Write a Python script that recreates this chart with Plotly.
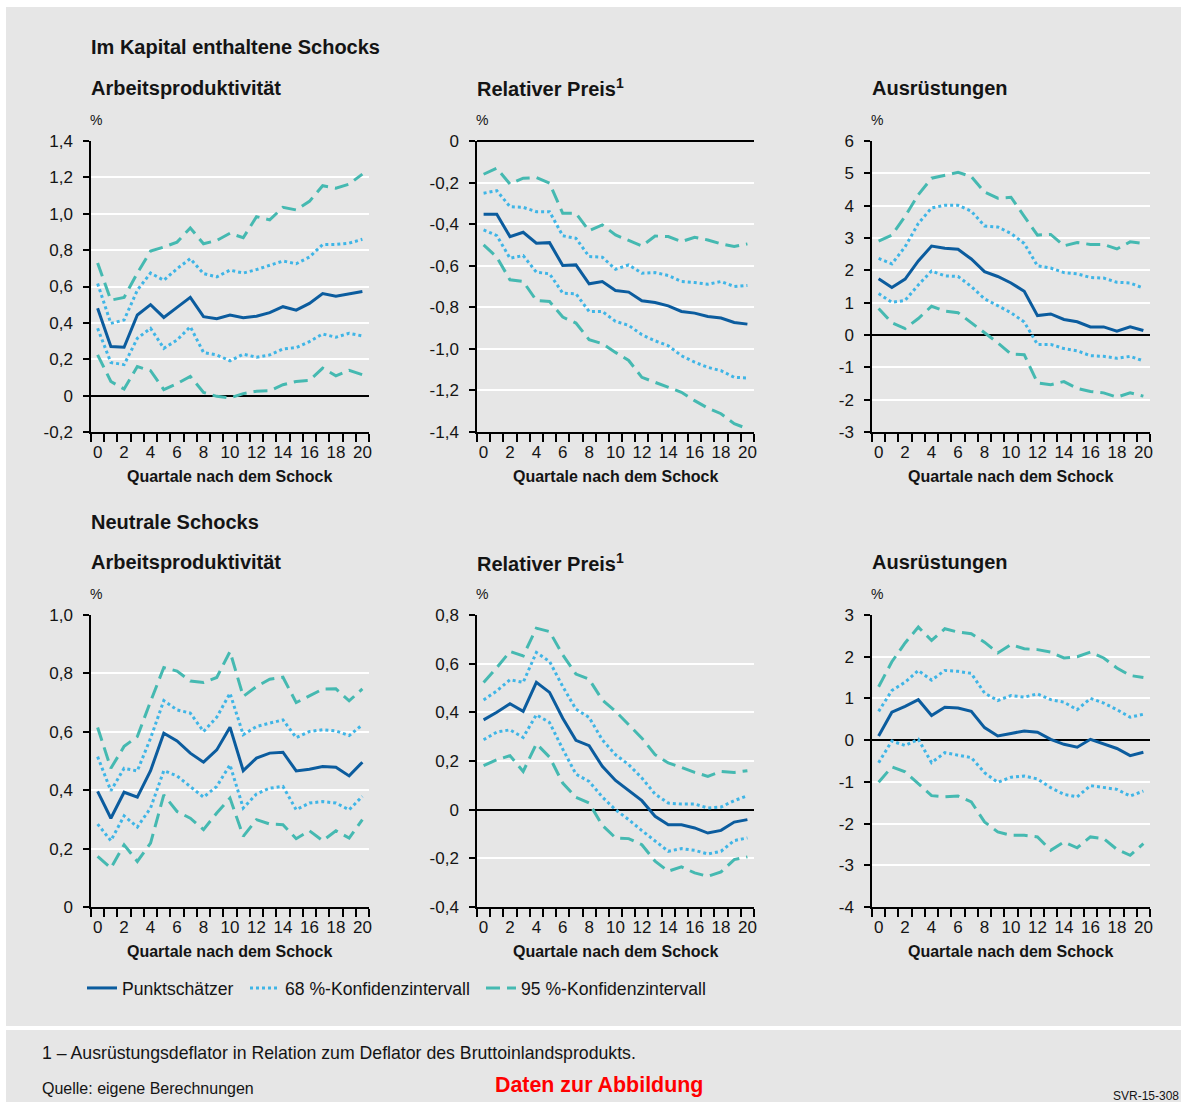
import plotly.graph_objects as go

W, H = 1181, 1102

quarters = list(range(21))
x_tick_labels = [str(q) if q % 2 == 0 else "" for q in quarters]

# ---------- Im Kapital enthaltene Schocks ----------
kap_ap_point = [0.48, 0.27, 0.266, 0.443, 0.50, 0.43, 0.485, 0.54, 0.434, 0.423, 0.443,
                0.428, 0.437, 0.456, 0.489, 0.47, 0.507, 0.561, 0.547, 0.561, 0.572]
kap_ap_68_hi = [0.616, 0.397, 0.416, 0.58, 0.674, 0.634, 0.698, 0.753, 0.671, 0.653, 0.69,
                0.674, 0.693, 0.716, 0.74, 0.725, 0.762, 0.831, 0.831, 0.838, 0.86]
kap_ap_68_lo = [0.37, 0.182, 0.17, 0.315, 0.37, 0.26, 0.306, 0.379, 0.237, 0.224, 0.191,
                0.228, 0.211, 0.224, 0.257, 0.264, 0.297, 0.339, 0.321, 0.343, 0.328]
kap_ap_95_hi = [0.729, 0.525, 0.54, 0.674, 0.795, 0.817, 0.844, 0.922, 0.835, 0.853, 0.893,
                0.868, 0.984, 0.966, 1.035, 1.021, 1.068, 1.154, 1.141, 1.163, 1.218]
kap_ap_95_lo = [0.224, 0.078, 0.036, 0.16, 0.137, 0.033, 0.066, 0.106, 0.018, -0.004, -0.013,
                0.011, 0.024, 0.027, 0.06, 0.078, 0.084, 0.151, 0.109, 0.139, 0.115]

kap_rp_point = [-0.352, -0.352, -0.46, -0.439, -0.492, -0.489, -0.599, -0.596, -0.687, -0.676, -0.719,
                -0.727, -0.769, -0.777, -0.793, -0.82, -0.828, -0.844, -0.852, -0.873, -0.881]
kap_rp_68_hi = [-0.251, -0.239, -0.316, -0.319, -0.34, -0.34, -0.456, -0.468, -0.556, -0.559, -0.617,
                -0.596, -0.636, -0.633, -0.647, -0.676, -0.681, -0.689, -0.676, -0.70, -0.695]
kap_rp_68_lo = [-0.428, -0.455, -0.564, -0.551, -0.631, -0.639, -0.732, -0.735, -0.82, -0.82, -0.868,
                -0.887, -0.932, -0.961, -0.985, -1.033, -1.064, -1.089, -1.105, -1.137, -1.14]
kap_rp_95_hi = [-0.16, -0.131, -0.207, -0.179, -0.176, -0.203, -0.348, -0.348, -0.432, -0.404, -0.452,
                -0.479, -0.505, -0.457, -0.46, -0.484, -0.463, -0.476, -0.495, -0.508, -0.495]
kap_rp_95_lo = [-0.50, -0.559, -0.668, -0.676, -0.767, -0.772, -0.847, -0.876, -0.956, -0.975, -1.017,
                -1.056, -1.137, -1.161, -1.185, -1.209, -1.249, -1.285, -1.312, -1.36, -1.384]

kap_au_point = [1.74, 1.47, 1.73, 2.29, 2.75, 2.68, 2.65, 2.35, 1.96, 1.81, 1.61,
                1.35, 0.60, 0.65, 0.48, 0.41, 0.25, 0.25, 0.12, 0.25, 0.14]
kap_au_68_hi = [2.37, 2.20, 2.73, 3.45, 3.93, 4.01, 4.01, 3.83, 3.37, 3.34, 3.14,
                2.83, 2.14, 2.07, 1.93, 1.89, 1.78, 1.76, 1.63, 1.61, 1.45]
kap_au_68_lo = [1.28, 1.01, 1.07, 1.55, 1.98, 1.83, 1.81, 1.50, 1.12, 0.91, 0.69,
                0.40, -0.29, -0.29, -0.42, -0.49, -0.64, -0.66, -0.72, -0.66, -0.80]
kap_au_95_hi = [2.90, 3.09, 3.67, 4.34, 4.85, 4.95, 5.03, 4.90, 4.42, 4.23, 4.26,
                3.67, 3.09, 3.11, 2.76, 2.86, 2.80, 2.80, 2.66, 2.88, 2.83]
kap_au_95_lo = [0.82, 0.38, 0.20, 0.51, 0.89, 0.74, 0.69, 0.38, 0.05, -0.24, -0.59,
                -0.61, -1.48, -1.54, -1.44, -1.65, -1.75, -1.79, -1.92, -1.79, -1.89]

# ---------- Neutrale Schocks ----------
neu_ap_point = [0.396, 0.304, 0.393, 0.376, 0.467, 0.595, 0.569, 0.527, 0.496, 0.538, 0.616,
                0.467, 0.51, 0.527, 0.53, 0.466, 0.472, 0.481, 0.479, 0.449, 0.496]
neu_ap_68_hi = [0.515, 0.398, 0.475, 0.466, 0.578, 0.707, 0.675, 0.664, 0.601, 0.65, 0.732,
                0.59, 0.618, 0.629, 0.641, 0.58, 0.601, 0.607, 0.603, 0.587, 0.624]
neu_ap_68_lo = [0.284, 0.227, 0.312, 0.274, 0.339, 0.467, 0.449, 0.413, 0.376, 0.413, 0.487,
                0.339, 0.387, 0.407, 0.413, 0.333, 0.356, 0.361, 0.356, 0.333, 0.379]
neu_ap_95_hi = [0.615, 0.475, 0.55, 0.584, 0.704, 0.82, 0.808, 0.774, 0.769, 0.786, 0.875,
                0.721, 0.755, 0.78, 0.787, 0.70, 0.723, 0.746, 0.747, 0.706, 0.747]
neu_ap_95_lo = [0.173, 0.133, 0.213, 0.156, 0.219, 0.384, 0.327, 0.304, 0.265, 0.322, 0.373,
                0.242, 0.299, 0.284, 0.282, 0.234, 0.261, 0.227, 0.261, 0.236, 0.299]

neu_rp_point = [0.369, 0.40, 0.435, 0.404, 0.523, 0.482, 0.376, 0.285, 0.263, 0.178, 0.12,
                0.079, 0.037, -0.027, -0.062, -0.062, -0.075, -0.096, -0.085, -0.051, -0.041]
neu_rp_68_hi = [0.451, 0.488, 0.534, 0.523, 0.646, 0.609, 0.506, 0.413, 0.379, 0.287, 0.226,
                0.185, 0.13, 0.064, 0.027, 0.023, 0.023, 0.007, 0.011, 0.037, 0.057]
neu_rp_68_lo = [0.287, 0.319, 0.328, 0.297, 0.39, 0.358, 0.249, 0.146, 0.116, 0.052, 0.0,
                -0.041, -0.086, -0.127, -0.171, -0.16, -0.167, -0.182, -0.171, -0.127, -0.116]
neu_rp_95_hi = [0.523, 0.584, 0.65, 0.632, 0.746, 0.732, 0.636, 0.557, 0.536, 0.451, 0.404,
                0.349, 0.294, 0.226, 0.192, 0.174, 0.153, 0.137, 0.157, 0.153, 0.16]
neu_rp_95_lo = [0.181, 0.205, 0.222, 0.157, 0.271, 0.216, 0.109, 0.051, 0.027, -0.064, -0.116,
                -0.119, -0.144, -0.212, -0.253, -0.235, -0.26, -0.274, -0.256, -0.205, -0.194]

neu_au_point = [0.10, 0.67, 0.81, 0.97, 0.59, 0.79, 0.77, 0.69, 0.30, 0.10, 0.16,
                0.22, 0.19, 0.02, -0.10, -0.17, 0.02, -0.09, -0.20, -0.37, -0.29]
neu_au_68_hi = [0.69, 1.19, 1.39, 1.67, 1.44, 1.67, 1.65, 1.60, 1.13, 0.95, 1.07,
                1.03, 1.11, 0.97, 0.91, 0.73, 1.00, 0.89, 0.73, 0.55, 0.62]
neu_au_68_lo = [-0.54, -0.02, -0.13, 0.02, -0.54, -0.30, -0.36, -0.42, -0.78, -1.01, -0.89,
                -0.86, -0.93, -1.14, -1.30, -1.36, -1.09, -1.14, -1.18, -1.34, -1.22]
neu_au_95_hi = [1.28, 1.88, 2.33, 2.71, 2.39, 2.67, 2.59, 2.55, 2.35, 2.09, 2.29,
                2.19, 2.17, 2.11, 1.97, 2.00, 2.11, 1.97, 1.73, 1.55, 1.50]
neu_au_95_lo = [-1.01, -0.64, -0.76, -1.04, -1.33, -1.36, -1.34, -1.48, -1.96, -2.20, -2.28,
                -2.28, -2.32, -2.64, -2.44, -2.58, -2.32, -2.36, -2.62, -2.76, -2.48]

# y-axis settings per panel
y_ranges = [[-0.2, 1.4], [-1.4, 0.0], [-3, 6], [0.0, 1.0], [-0.4, 0.8], [-4, 3]]
y_tickvals = [
    [-0.2, 0, 0.2, 0.4, 0.6, 0.8, 1.0, 1.2, 1.4],
    [-1.4, -1.2, -1.0, -0.8, -0.6, -0.4, -0.2, 0],
    [-3, -2, -1, 0, 1, 2, 3, 4, 5, 6],
    [0, 0.2, 0.4, 0.6, 0.8, 1.0],
    [-0.4, -0.2, 0, 0.2, 0.4, 0.6, 0.8],
    [-4, -3, -2, -1, 0, 1, 2, 3],
]
y_decimals = [1, 1, 0, 1, 1, 0]
panel_titles = ["Arbeitsproduktivität", "Relativer Preis<sup>1</sup>", "Ausrüstungen",
                "Arbeitsproduktivität", "Relativer Preis<sup>1</sup>", "Ausrüstungen"]
panels = [
    (kap_ap_point, kap_ap_68_hi, kap_ap_68_lo, kap_ap_95_hi, kap_ap_95_lo),
    (kap_rp_point, kap_rp_68_hi, kap_rp_68_lo, kap_rp_95_hi, kap_rp_95_lo),
    (kap_au_point, kap_au_68_hi, kap_au_68_lo, kap_au_95_hi, kap_au_95_lo),
    (neu_ap_point, neu_ap_68_hi, neu_ap_68_lo, neu_ap_95_hi, neu_ap_95_lo),
    (neu_rp_point, neu_rp_68_hi, neu_rp_68_lo, neu_rp_95_hi, neu_rp_95_lo),
    (neu_au_point, neu_au_68_hi, neu_au_68_lo, neu_au_95_hi, neu_au_95_lo),
]


def fmt_tick(v, decimals):
    if abs(v) < 1e-9:
        return "0"
    return f"{v:.{decimals}f}".replace(".", ",")


def px_x(p):
    return p / W


def px_y(p):
    return 1 - p / H


FONT = "Liberation Sans, Arial, sans-serif"
TXT = "#141414"
GREY = "#e6e6e6"
C_POINT = "#0b5c9e"
C_68 = "#3fb5e6"
C_95 = "#45b9b1"

col_px = [(91, 369), (477, 754), (872, 1150)]
row_px = [(141, 432), (615, 907)]

fig = go.Figure()
layout = dict(
    width=W, height=H,
    margin=dict(l=0, r=0, t=0, b=0, pad=0, autoexpand=False),
    paper_bgcolor="white",
    plot_bgcolor=GREY,
    font=dict(family=FONT, color=TXT),
    showlegend=True,
)

annotations = []

for i, (pt, h68, l68, h95, l95) in enumerate(panels):
    r, c = divmod(i, 3)
    ax = "" if i == 0 else str(i + 1)
    xref, yref = "x" + ax, "y" + ax
    show = i == 0
    fig.add_trace(go.Scatter(x=quarters, y=pt, mode="lines", name="Punktschätzer",
                             line=dict(color=C_POINT, width=3), legendgroup="p", legend="legend",
                             showlegend=show, xaxis=xref, yaxis=yref))
    fig.add_trace(go.Scatter(x=quarters, y=h68, mode="lines", name="68 %-Konfidenzintervall",
                             line=dict(color=C_68, width=3, dash="3px,3px"), legendgroup="k68",
                             legend="legend2", showlegend=show, xaxis=xref, yaxis=yref))
    fig.add_trace(go.Scatter(x=quarters, y=l68, mode="lines", name="68 %-Konfidenzintervall",
                             line=dict(color=C_68, width=3, dash="3px,3px"), legendgroup="k68",
                             legend="legend2", showlegend=False, xaxis=xref, yaxis=yref))
    fig.add_trace(go.Scatter(x=quarters, y=h95, mode="lines", name="95 %-Konfidenzintervall",
                             line=dict(color=C_95, width=3, dash="14px,7px"), legendgroup="k95",
                             legend="legend3", showlegend=show, xaxis=xref, yaxis=yref))
    fig.add_trace(go.Scatter(x=quarters, y=l95, mode="lines", name="95 %-Konfidenzintervall",
                             line=dict(color=C_95, width=3, dash="14px,7px"), legendgroup="k95",
                             legend="legend3", showlegend=False, xaxis=xref, yaxis=yref))

    x0, x1 = col_px[c]
    y0, y1 = row_px[r]
    layout["xaxis" + ax] = dict(
        domain=[px_x(x0), px_x(x1)], anchor=yref, range=[-0.5, 20.5],
        tickmode="array", tickvals=quarters, ticktext=x_tick_labels, ticks="",
        ticklabelstandoff=4, automargin=False,
        minor=dict(tickmode="array", tickvals=[q - 0.5 for q in quarters] + [20.5],
                   ticks="outside", ticklen=8, tickwidth=1.5, tickcolor="black", showgrid=False),
        showgrid=False, zeroline=False, showline=True, linecolor="black", linewidth=1.5,
        tickfont=dict(size=17, color=TXT), fixedrange=True,
    )
    tv = y_tickvals[i]
    layout["yaxis" + ax] = dict(
        domain=[px_y(y1), px_y(y0)], anchor=xref, range=y_ranges[i],
        tickmode="array", tickvals=tv, ticktext=[fmt_tick(v, y_decimals[i]) for v in tv],
        ticks="outside", ticklen=6, tickwidth=1.5, tickcolor="black",
        ticklabelstandoff=7, automargin=False,
        showgrid=True, gridcolor="white", gridwidth=2,
        zeroline=True, zerolinecolor="black", zerolinewidth=1.5,
        showline=True, linecolor="black", linewidth=1.5,
        tickfont=dict(size=17, color=TXT), fixedrange=True,
    )
    annotations.append(dict(text=f"<b>{panel_titles[i]}</b>", x=px_x(x0 - 2), y=px_y(y0 - 53),
                            xref="paper", yref="paper", xanchor="left", yanchor="middle",
                            showarrow=False, font=dict(size=20, color=TXT)))
    annotations.append(dict(text="%", x=px_x(x0 - 3), y=px_y(y0 - 21),
                            xref="paper", yref="paper", xanchor="left", yanchor="middle",
                            showarrow=False, font=dict(size=14, color=TXT)))
    annotations.append(dict(text="<b>Quartale nach dem Schock</b>", x=px_x((x0 + x1) / 2),
                            y=px_y(y1 + 44), xref="paper", yref="paper",
                            xanchor="center", yanchor="middle",
                            showarrow=False, font=dict(size=16, color=TXT)))

annotations.append(dict(text="<b>Im Kapital enthaltene Schocks</b>", x=px_x(89), y=px_y(47),
                        xref="paper", yref="paper", xanchor="left", yanchor="middle",
                        showarrow=False, font=dict(size=20, color=TXT)))
annotations.append(dict(text="<b>Neutrale Schocks</b>", x=px_x(89), y=px_y(522),
                        xref="paper", yref="paper", xanchor="left", yanchor="middle",
                        showarrow=False, font=dict(size=20, color=TXT)))
annotations.append(dict(text="1 – Ausrüstungsdeflator in Relation zum Deflator des Bruttoinlandsprodukts.",
                        x=px_x(40), y=px_y(1053), xref="paper", yref="paper",
                        xanchor="left", yanchor="middle", showarrow=False,
                        font=dict(size=17.7, color=TXT)))
annotations.append(dict(text="Quelle: eigene Berechnungen", x=px_x(40), y=px_y(1088),
                        xref="paper", yref="paper", xanchor="left", yanchor="middle",
                        showarrow=False, font=dict(size=16, color=TXT)))
annotations.append(dict(text="<b>Daten zur Abbildung</b>", x=px_x(599), y=px_y(1085),
                        xref="paper", yref="paper", xanchor="center", yanchor="middle",
                        showarrow=False, font=dict(size=21.4, color="#ff0000")))
annotations.append(dict(text="SVR-15-308", x=px_x(1181), y=px_y(1096),
                        xref="paper", yref="paper", xanchor="right", yanchor="middle",
                        showarrow=False, font=dict(size=12, color=TXT)))

layout["annotations"] = annotations
layout["shapes"] = [
    dict(type="rect", xref="paper", yref="paper", x0=px_x(6), x1=1, y0=px_y(1026), y1=px_y(7),
         fillcolor=GREY, line=dict(width=0), layer="below"),
    dict(type="rect", xref="paper", yref="paper", x0=px_x(6), x1=1, y0=0, y1=px_y(1030),
         fillcolor=GREY, line=dict(width=0), layer="below"),
]
legend_common = dict(orientation="h", xanchor="left", y=px_y(988), yanchor="middle",
                     font=dict(size=17.6, color=TXT), bgcolor="rgba(0,0,0,0)", itemwidth=30)
layout["legend"] = dict(x=px_x(82), **legend_common)
layout["legend2"] = dict(x=px_x(245), **legend_common)
layout["legend3"] = dict(x=px_x(481), **legend_common)

fig.update_layout(**layout)
fig.write_html(
    "out.html",
    config={"displayModeBar": False},
    post_script=(
        "var d=document.getElementById('{plot_id}');"
        "d.style.position='fixed';d.style.left='0px';d.style.top='0px';"
        "document.body.style.margin='0';"
        "document.documentElement.style.overflow='hidden';"
        "document.body.style.overflow='hidden';"
    ),
)
